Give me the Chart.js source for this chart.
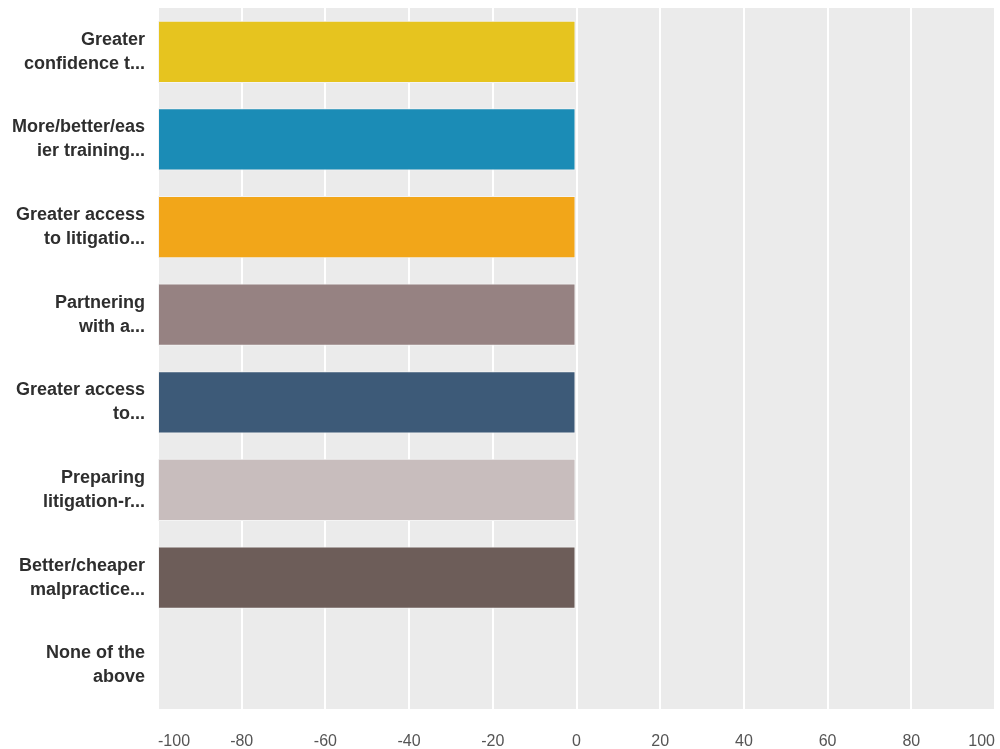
<!DOCTYPE html>
<html>
<head>
<meta charset="utf-8">
<script src="https://cdn.jsdelivr.net/npm/chart.js@4.4.0/dist/chart.umd.min.js"></script>
<style>
html,body{margin:0;padding:0;background:#fff;}
#c{display:block;}
</style>
</head>
<body>
<canvas id="c" width="1000" height="749"></canvas>
<script>
const categories = [
  ["Greater", "confidence t..."],
  ["More/better/eas", "ier training..."],
  ["Greater access", "to litigatio..."],
  ["Partnering", "with a..."],
  ["Greater access", "to..."],
  ["Preparing", "litigation-r..."],
  ["Better/cheaper", "malpractice..."],
  ["None of the", "above"]
];
const values = [-100, -100, -100, -100, -100, -100, -100, 0];
const barColors = ["#e6c41f", "#1b8cb6", "#f2a619", "#968282", "#3d5a78", "#c8bdbd", "#6d5d59", "#cccccc"];
const xTicks = [-100, -80, -60, -40, -20, 0, 20, 40, 60, 80, 100];

const plotBg = {
  id: 'plotBg',
  beforeDraw(chart) {
    const {ctx, chartArea: a} = chart;
    ctx.save();
    ctx.fillStyle = '#ebebeb';
    ctx.fillRect(a.left, a.top, a.right - a.left, a.bottom - a.top);
    ctx.restore();
  }
};

new Chart(document.getElementById('c'), {
  type: 'bar',
  data: {
    labels: categories,
    datasets: [{
      data: values,
      backgroundColor: barColors,
      borderColor: '#f4f4f4',
      borderWidth: 1,
      borderSkipped: false,
      categoryPercentage: 1,
      barPercentage: 0.71
    }]
  },
  options: {
    indexAxis: 'y',
    responsive: false,
    animation: false,
    layout: {padding: {top: 8, right: 5, left: 0, bottom: 0}},
    plugins: {legend: {display: false}, tooltip: {enabled: false}},
    scales: {
      x: {
        min: -100, max: 100,
        afterBuildTicks(scale) { scale.ticks = xTicks.map(v => ({value: v})); },
        afterFit(scale) { scale.height = 40; scale.paddingLeft = 0; scale.paddingRight = 0; },
        grid: {color: '#ffffff', lineWidth: 2, drawTicks: false},
        border: {display: false},
        ticks: {color: '#555555', font: {family: 'Liberation Sans', size: 16}, padding: 23, maxRotation: 0, align: 'inner'}
      },
      y: {
        afterFit(scale) { scale.width = 158; scale.paddingTop = 0; scale.paddingBottom = 0; },
        grid: {display: false, drawTicks: false},
        border: {display: false},
        ticks: {color: '#2e2e2e', font: {family: 'Liberation Sans', size: 18, weight: 'bold', lineHeight: 1.33}, padding: 13}
      }
    }
  },
  plugins: [plotBg]
});
</script>
</body>
</html>
